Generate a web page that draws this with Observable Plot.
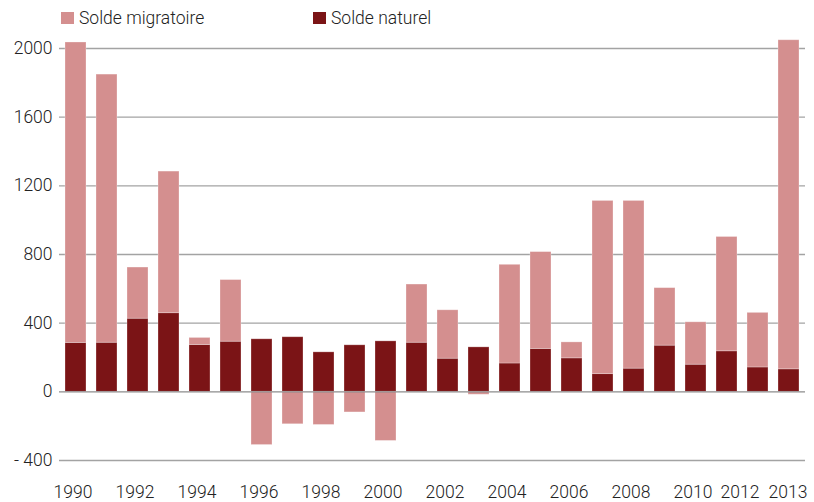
<!DOCTYPE html>
<html>
<head>
<meta charset="utf-8">
<script src="https://cdn.jsdelivr.net/npm/d3@7"></script>
<script src="https://cdn.jsdelivr.net/npm/@observablehq/plot@0.6"></script>
<style>
  html, body { margin: 0; padding: 0; background: #fff; }
  body { width: 814px; height: 502px; overflow: hidden; font-family: "Roboto", "Liberation Sans", sans-serif; font-weight: 300; color: #222; }
  #legend { position: relative; height: 30px; font-size: 17.5px; }
  .item { position: absolute; top: 6px; height: 24px; display: flex; align-items: center; }
  .sw { width: 13px; height: 12px; margin-right: 5px; }
  svg { display: block; }
</style>
</head>
<body>
<div id="legend"></div>
<div id="chart"></div>
<script>
const years = [1990,1991,1992,1993,1994,1995,1996,1997,1998,1999,2000,2001,2002,2003,2004,2005,2006,2007,2008,2009,2010,2011,2012,2013];
const soldeNaturel = [285,286,426,458,273,292,306,318,230,271,294,286,193,259,165,250,195,103,135,269,158,236,142,131];
const soldeMigratoire = [1750,1562,298,825,41,359,-310,-189,-193,-120,-286,339,282,-17,575,564,93,1009,977,335,247,666,318,1917];
const seriesNames = ["Solde naturel", "Solde migratoire"];
const legendNames = ["Solde migratoire", "Solde naturel"];
const colors = {"Solde naturel": "#7b1416", "Solde migratoire": "#d48f8f"};
const yTicks = [-400, 0, 400, 800, 1200, 1600, 2000];
const xTickMain = [1990,1992,1994,1996,1998,2000,2002,2004,2006,2008,2010];

const data = [];
years.forEach((y, i) => {
  data.push({year: y, serie: "Solde naturel", value: soldeNaturel[i]});
  data.push({year: y, serie: "Solde migratoire", value: soldeMigratoire[i]});
});

// legend
const legend = document.getElementById("legend");
const legendX = [61, 313];
legendNames.forEach((n, i) => {
  const it = document.createElement("div");
  it.className = "item";
  it.style.left = legendX[i] + "px";
  it.innerHTML = `<span class="sw" style="background:${colors[n]}"></span><span>${n}</span>`;
  legend.appendChild(it);
});

const fmt = d => d < 0 ? "- " + Math.abs(d) : String(d);
const axisStyle = {tickSize: 0, label: null, fill: "#222", fontSize: 17.5};

const chart = Plot.plot({
  width: 814,
  height: 472,
  marginLeft: 59,
  marginRight: 9,
  marginTop: 18,
  marginBottom: 42,
  style: {fontFamily: "Roboto, 'Liberation Sans', sans-serif", fontSize: "17.5px", fontWeight: 300, color: "#222", background: "#fff"},
  x: {type: "band", domain: years, paddingInner: 0.31, paddingOuter: 0.155, axis: null, label: null},
  y: {domain: [-400, 2000], axis: null, label: null},
  color: {domain: seriesNames, range: seriesNames.map(n => colors[n])},
  marks: [
    Plot.ruleY(yTicks.filter(d => d !== 0), {stroke: "#a3a3a3", strokeWidth: 1.3}),
    Plot.barY(data, Plot.stackY({x: "year", y: "value", fill: "serie", order: seriesNames, stroke: "#fff", strokeOpacity: 0.35, strokeWidth: 0.8})),
    Plot.ruleY([0], {stroke: "#8c8c8c", strokeWidth: 1.3}),
    Plot.axisY(yTicks, {...axisStyle, tickPadding: 7, tickFormat: fmt}),
    Plot.axisX(xTickMain, {...axisStyle, tickPadding: 25, dx: -3, tickFormat: d => String(d)}),
    Plot.axisX([2012], {...axisStyle, tickPadding: 25, dx: -18, tickFormat: d => String(d)}),
    Plot.axisX([2013], {...axisStyle, tickPadding: 25, dx: -1, tickFormat: d => String(d)})
  ]
});
document.getElementById("chart").appendChild(chart);
</script>
</body>
</html>
